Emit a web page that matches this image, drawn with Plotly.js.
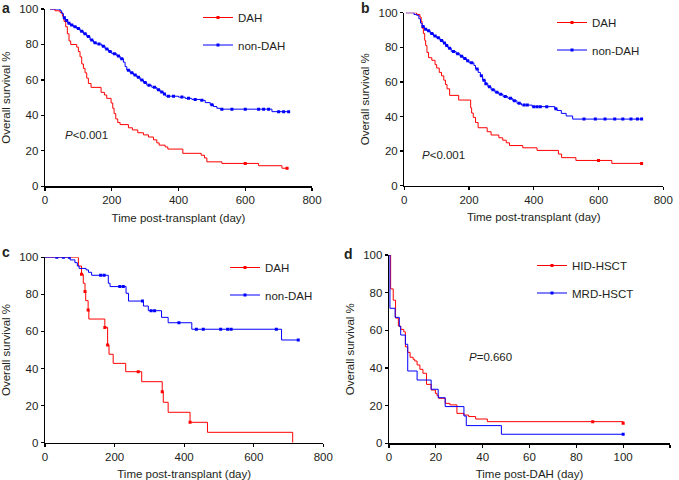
<!DOCTYPE html>
<html>
<head>
<meta charset="utf-8">
<script src="https://cdn.plot.ly/plotly-3.0.1.min.js"></script>
<style>html,body{margin:0;padding:0;background:#fff}#chart{width:679px;height:480px}</style>
</head>
<body>
<div id="chart"></div>
<script>
// ---------- Panel a ----------
const aDahT = [15,30,45,52,57,62,67,72,77,95,100,105,110,115,120,125,130,138,168,178,185,198,203,207,212,218,225,250,262,278,295,310,325,335,342,360,368,413,468,478,485,530,640,710,730];
const aDahS = [100,99,98,96,93,90,86,82,80,78.5,76,73,69,66.5,64,61,58,55.8,53,51.5,49.6,47,44,41,38,36,34.8,33,31.8,30.2,29,27.8,26.2,24.5,23.2,22.2,21,18.6,17.5,16,13.8,12.9,11.6,10.2,10.2];
const aDahCT = [600,725];
const aDahCS = [12.9,10.2];
const aNonT = [15,45,50,55,60,68,75,85,95,105,115,125,135,145,155,170,180,190,200,215,225,235,240,245,255,265,275,285,295,305,320,335,345,355,362,400,420,440,465,480,495,505,515,525,680,730];
const aNonS = [100,99,97.5,95,93.5,92,91,90,89,87.5,86,84.5,82.5,81,80.2,79,77.5,76,74.8,73.5,72,70,67.5,65.5,64,62.8,61.5,60,58.5,57,55.8,54.5,53.2,52,50.8,50.3,49.6,49,48.5,47.2,46,45,44,43.5,42.1,42.1];
const aNonCT = [58,65,72,80,90,100,110,120,130,140,150,162,175,185,195,208,220,230,250,260,270,280,290,300,312,328,340,350,358,370,385,410,430,450,470,500,530,560,600,640,655,670,700,715,730];
const aNonCS = [95,93.5,92,91,90,89,87.5,86,84.5,82.5,81,80.2,79,77.5,76,74.8,73.5,72,65.5,64,62.8,61.5,60,58.5,57,55.8,54.5,53.2,52,50.8,50.8,50.3,49.6,49,48.5,46,43.5,43.5,43.5,43.5,43.5,43.5,42.1,42.1,42.1];

// ---------- Panel b ----------
const bDahT = [5,38,48,52,55,59,63,66,70,75,85,95,100,108,115,122,127,132,140,168,205,208,213,220,228,256,268,292,304,315,325,366,410,476,486,530,641,733];
const bDahS = [100,99,97.5,95,91,88,84,81,77,74,72.5,70,68,65.5,63.5,61,58.5,56,52.2,49.5,45,42,39.5,36.5,33.5,31.2,29.3,27.7,26.3,24.8,23.2,21.9,20.4,18.3,16.2,14.6,12.9,12.9];
const bDahCT = [600,733];
const bDahCS = [14.6,12.9];
const bNonT = [5,30,38,45,50,55,62,70,80,90,100,110,120,128,135,145,160,172,182,192,200,215,220,228,235,242,250,258,268,280,292,305,320,335,348,362,395,465,472,485,500,520,733];
const bNonS = [100,99,98.5,96.5,94,92,90.5,89.5,88,86.5,85.5,84,82.5,81,79.5,77.5,76.2,74.8,73.5,72.2,71,69.5,67.5,65.5,63.5,61,59,57.2,55.5,54,52.8,51.5,50.5,49.1,47.6,46.6,45.7,44.5,43.5,41.8,40.3,38.5,38.5];
const bNonCT = [58,66,75,85,95,105,115,124,131,140,152,165,177,187,196,208,225,238,246,252,263,274,286,298,312,328,340,355,370,380,400,410,420,440,468,555,590,620,650,675,700,720,733];
const bNonCS = [92,90.5,89.5,88,86.5,85.5,84,82.5,81,79.5,77.5,76.2,74.8,73.5,72.2,71,67.5,63.5,61,59,57.2,55.5,54,52.8,51.5,50.5,49.1,47.6,46.6,46.6,45.7,45.7,45.7,45.7,44.5,38.5,38.5,38.5,38.5,38.5,38.5,38.5,38.5];

// ---------- Panel c ----------
const cDahT = [0,96,105,110,115,117,124,126,172,180,184,196,232,278,337,340,354,417,467,712];
const cDahS = [100,95.3,90.8,86,81.5,76.6,71.6,66.7,62.2,52.7,47.7,42.8,38.3,32.9,27.5,21.8,16.4,11,5.6,0];
const cDahCT = [105,115,124,172,180,268,337,417];
const cDahCS = [90.8,81.5,71.6,62.2,52.7,38.3,27.5,11];
const cNonT = [0,72,86,93,98,118,125,134,182,187,233,240,283,297,335,354,422,680,728];
const cNonS = [100,98.6,97.1,95.3,94,93.2,91.9,90.3,86,84.2,80.6,76.4,73.7,71.2,67.6,64.7,61.2,55.4,55.4];
const cNonCT = [34,53,70,160,170,215,225,280,305,315,385,435,455,505,525,535,665,728];
const cNonCS = [100,100,100,90.3,90.3,84.2,84.2,76.4,71.2,71.2,64.7,61.2,61.2,61.2,61.2,61.2,61.2,55.4];

// ---------- Panel d ----------
const dHidT = [0,0.7,1.8,2.8,4,5,6.3,7,8,9,10.3,11,12,13.2,14.5,16,18,19.8,20.5,21.2,24,26,29,32,34,37,42,100];
const dHidS = [100,82,76,66.5,62.3,60.5,59.2,51.2,48.3,45.7,44.6,43.7,41.6,39.3,37.2,31.3,28.3,26.5,25.3,23.9,21.2,20.4,15.9,15,14.2,12.9,11.5,10.6];
const dHidCT = [87,100];
const dHidCS = [11.5,10.6];
const dMrdT = [0,0.4,2.6,4.4,5,7,8,12,18,21,24,32,33,48,100];
const dMrdS = [100,71.7,66.9,62,57.5,52.6,38.4,33.6,28.7,24.2,19.5,14.5,9.4,4.8,4.8];
const dMrdCT = [100];
const dMrdCS = [4.8];

const RED = '#ff0000', BLUE = '#0000ff';
const FONT = 'Liberation Sans, Arial, sans-serif';
const TXT = '#231f20';

function km(t, s, ct, cs, color, name, xa, ya, legend, group) {
  return [
    {x: t, y: s, type: 'scatter', mode: 'lines+markers', line: {shape: 'hv', color: color, width: 1},
     marker: {size: 3, color: color, symbol: 'square'},
     selectedpoints: [], unselected: {marker: {opacity: 0}},
     name: name, xaxis: xa, yaxis: ya, legend: legend, legendgroup: group, hoverinfo: 'skip'},
    {x: ct, y: cs, type: 'scatter', mode: 'markers', marker: {size: 3, color: color, symbol: 'square'},
     showlegend: false, xaxis: xa, yaxis: ya, legend: legend, legendgroup: group, hoverinfo: 'skip'}
  ];
}

const data = [].concat(
  km(aDahT, aDahS, aDahCT, aDahCS, RED, 'DAH', 'x', 'y', 'legend', 'a1'),
  km(aNonT, aNonS, aNonCT, aNonCS, BLUE, 'non-DAH', 'x', 'y', 'legend', 'a2'),
  km(bDahT, bDahS, bDahCT, bDahCS, RED, 'DAH', 'x2', 'y2', 'legend2', 'b1'),
  km(bNonT, bNonS, bNonCT, bNonCS, BLUE, 'non-DAH', 'x2', 'y2', 'legend2', 'b2'),
  km(cDahT, cDahS, cDahCT, cDahCS, RED, 'DAH', 'x3', 'y3', 'legend3', 'c1'),
  km(cNonT, cNonS, cNonCT, cNonCS, BLUE, 'non-DAH', 'x3', 'y3', 'legend3', 'c2'),
  km(dHidT, dHidS, dHidCT, dHidCS, RED, 'HID-HSCT', 'x4', 'y4', 'legend4', 'd1'),
  km(dMrdT, dMrdS, dMrdCT, dMrdCS, BLUE, 'MRD-HSCT', 'x4', 'y4', 'legend4', 'd2')
);

function xax(domain, range, dtick, title, anchor) {
  return {domain: domain, range: range, dtick: dtick, tick0: 0, anchor: anchor,
    showline: true, linecolor: '#000', linewidth: 1.3, ticks: 'outside', ticklen: 3, tickwidth: 1.3, tickcolor: '#000',
    showgrid: false, zeroline: false, automargin: false, fixedrange: true,
    tickfont: {family: FONT, size: 11.5, color: TXT},
    title: {text: title, font: {family: FONT, size: 11.5, color: TXT}, standoff: 8}};
}
function yax(domain, anchor) {
  return {domain: domain, range: [0, 100], dtick: 20, tick0: 0, anchor: anchor,
    showline: true, linecolor: '#000', linewidth: 1.3, ticks: 'outside', ticklen: 3, tickwidth: 1.3, tickcolor: '#000',
    showgrid: false, zeroline: false, automargin: false, fixedrange: true,
    tickfont: {family: FONT, size: 11.5, color: TXT},
    title: {text: 'Overall survival %', font: {family: FONT, size: 11.5, color: TXT}, standoff: 6}};
}
function leg(x, y) {
  return {x: x, y: y, xanchor: 'left', yanchor: 'top', bgcolor: 'rgba(0,0,0,0)', borderwidth: 0,
    font: {family: FONT, size: 11.5, color: TXT}, tracegroupgap: 8.5, itemwidth: 30, traceorder: 'grouped'};
}
function ann(text, x, y, size, bold) {
  return {text: bold ? '<b>' + text + '</b>' : text, xref: 'paper', yref: 'paper', x: x / 679, y: 1 - y / 480,
    xanchor: 'left', yanchor: 'middle', showarrow: false, font: {family: FONT, size: size, color: TXT}};
}

const layout = {
  width: 679, height: 480, margin: {l: 0, r: 0, t: 0, b: 0},
  paper_bgcolor: '#fff', plot_bgcolor: '#fff', showlegend: true,
  xaxis: xax([45/679, 312/679], [0, 800], 200, 'Time post-transplant (day)', 'y'),
  yaxis: yax([1 - 186.3/480, 1 - 9/480], 'x'),
  xaxis2: xax([404.3/679, 663.3/679], [0, 800], 200, 'Time post-transplant (day)', 'y2'),
  yaxis2: yax([1 - 185.7/480, 1 - 12.7/480], 'x2'),
  xaxis3: xax([45/679, 323.3/679], [0, 800], 200, 'Time post-transplant (day)', 'y3'),
  yaxis3: yax([1 - 442.7/480, 1 - 257.3/480], 'x3'),
  xaxis4: xax([389/679, 670/679], [0, 120], 20, 'Time post-DAH (day)', 'y4'),
  yaxis4: yax([1 - 443.3/480, 1 - 255/480], 'x4'),
  legend: leg(198/679, 1 - 3/480),
  legend2: leg(552/679, 1 - 8/480),
  legend3: leg(225/679, 1 - 253/480),
  legend4: leg(532/679, 1 - 251/480),
  annotations: [
    ann('a', 0, 8, 14, true),
    ann('b', 359, 8, 14, true),
    ann('c', 0, 252, 14, true),
    ann('d', 342, 254, 14, true),
    ann('<i>P</i>&lt;0.001', 63, 135, 11.5, false),
    ann('<i>P</i>&lt;0.001', 420, 155, 11.5, false),
    ann('<i>P</i>=0.660', 467, 357, 11.5, false)
  ]
};

Plotly.newPlot('chart', data, layout, {displayModeBar: false, staticPlot: true});
</script>
</body>
</html>
